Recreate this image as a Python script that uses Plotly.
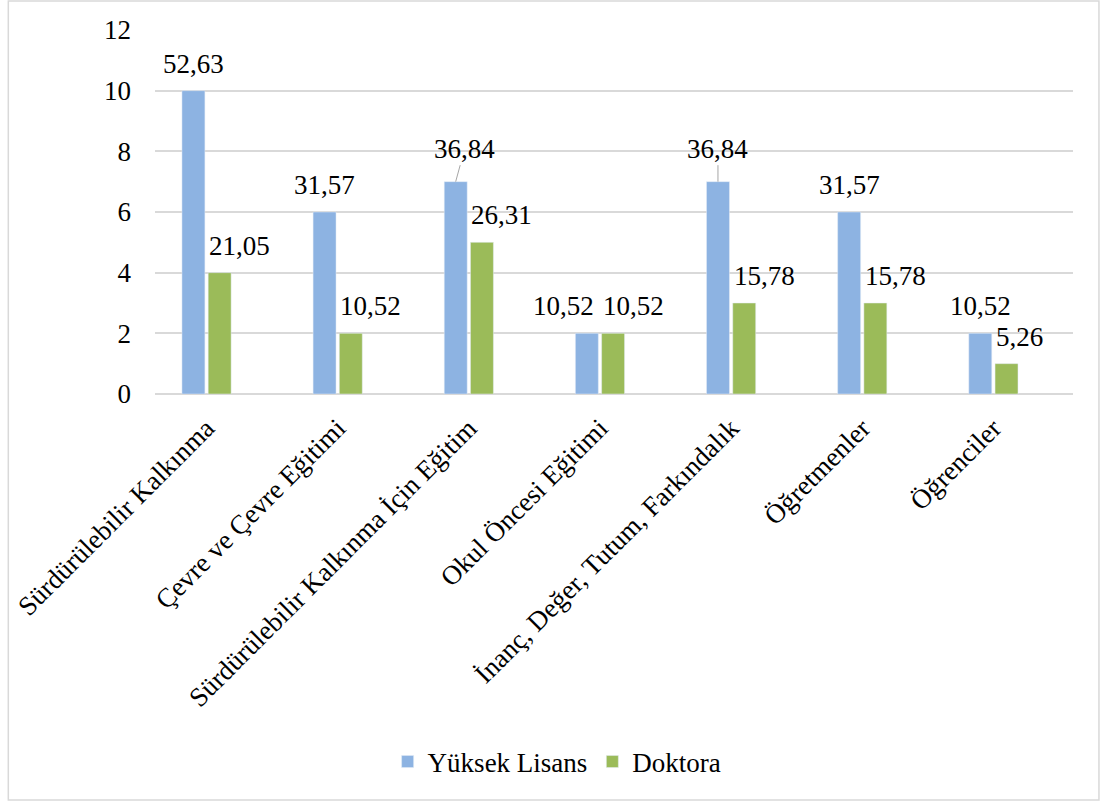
import plotly.graph_objects as go

categories = ["Sürdürülebilir Kalkınma", "Çevre ve Çevre Eğitimi", "Sürdürülebilir Kalkınma İçin Eğitim",
              "Okul Öncesi Eğitimi", "İnanç, Değer, Tutum, Farkındalık", "Öğretmenler", "Öğrenciler"]
yuksek_lisans = [10, 6, 7, 2, 7, 6, 2]
doktora = [4, 2, 5, 2, 3, 3, 1]
yl_labels = ["52,63", "31,57", "36,84", "10,52", "36,84", "31,57", "10,52"]
dr_labels = ["21,05", "10,52", "26,31", "10,52", "15,78", "15,78", "5,26"]
y_ticks = [0, 2, 4, 6, 8, 10, 12]

FONT = "Liberation Serif, Times New Roman, serif"
FS = 27
BLUE = "#8DB3E2"
GREEN = "#9BBB59"
GRID = "#D9D9D9"
TILT = 0.01

W, H = 1103, 802
L, R, T, B = 153, 30, 30, 408
plot_w = W - L - R
n = len(categories)
shift_cat = 0.107
bargap = 0.6
bargroupgap = 0.125
cat_px = plot_w / n
slot = cat_px * (1 - bargap) / 2
bar_w = slot * (1 - bargroupgap)

fig = go.Figure()
fig.add_trace(go.Bar(name="Yüksek Lisans", x=list(range(n)), y=yuksek_lisans, marker_color=BLUE))
fig.add_trace(go.Bar(name="Doktora", x=list(range(n)), y=doktora, marker_color=GREEN))

lab_font = dict(family=FONT, size=FS, color="#000000")
annotations = []
for i in range(n):
    v_yl, v_dr = yuksek_lisans[i], doktora[i]
    if yl_labels[i] == "36,84":
        annotations.append(dict(x=i, y=v_yl, xref="x", yref="y", text=yl_labels[i], showarrow=True,
                                arrowhead=0, arrowwidth=1, arrowcolor="#A6A6A6", standoff=0,
                                ax=9 if i == 2 else 0, ay=-33, xshift=-slot / 2, font=lab_font,
                                textangle=TILT))
    elif v_yl == v_dr:
        annotations.append(dict(x=i, y=v_yl, xref="x", yref="y", text=yl_labels[i], showarrow=False,
                                yanchor="bottom", xanchor="right", xshift=-slot / 2 + bar_w / 2 - 2,
                                yshift=10, font=lab_font, textangle=TILT))
    else:
        annotations.append(dict(x=i, y=v_yl, xref="x", yref="y", text=yl_labels[i], showarrow=False,
                                yanchor="bottom", xanchor="center", xshift=-slot / 2,
                                yshift=10, font=lab_font, textangle=TILT))
    annotations.append(dict(x=i, y=v_dr, xref="x", yref="y", text=dr_labels[i], showarrow=False,
                            yanchor="bottom", xanchor="left", xshift=slot / 2 - bar_w / 2 - 1,
                            yshift=10, font=lab_font, textangle=TILT))

def px_x(p):
    return (p - L) / plot_w

def px_y(p):
    return (H - B - p) / (H - T - B)

fig.update_layout(
    width=W, height=H,
    margin=dict(l=L, r=R, t=T, b=B),
    paper_bgcolor="white", plot_bgcolor="white",
    barmode="group", bargap=bargap, bargroupgap=bargroupgap,
    font=dict(family=FONT, size=FS, color="#000000"),
    showlegend=True,
    legend=dict(orientation="h", x=px_x(556), xanchor="center", y=px_y(762), yanchor="middle",
                font=dict(family=FONT, size=FS, color="#000000"), itemwidth=30,
                traceorder="normal"),
    annotations=annotations,
    shapes=[dict(type="rect", xref="paper", yref="paper",
                 x0=px_x(6), x1=px_x(1099), y0=px_y(800), y1=px_y(1),
                 line=dict(color=GRID, width=1.5), fillcolor="rgba(0,0,0,0)", layer="below")],
)
fig.update_xaxes(
    tickmode="array", tickvals=list(range(n)), ticktext=categories, tickangle=-45,
    range=[-0.5 + shift_cat, n - 0.5 + shift_cat],
    showgrid=False, zeroline=False, showline=False, ticks="",
    ticklabelstandoff=12,
    tickfont=dict(family=FONT, size=FS, color="#000000"), fixedrange=True,
)
fig.update_yaxes(
    range=[0, 12], tickvals=y_ticks, showgrid=True, gridcolor=GRID, gridwidth=1.5,
    zeroline=True, zerolinecolor=GRID, zerolinewidth=1.5, showline=False, ticks="",
    ticklabelstandoff=23, fixedrange=True, tickangle=TILT,
    tickfont=dict(family=FONT, size=FS, color="#000000"),
)
fig.write_html("out.html", config={"displayModeBar": False},
               post_script="document.body.style.margin='0px';")
